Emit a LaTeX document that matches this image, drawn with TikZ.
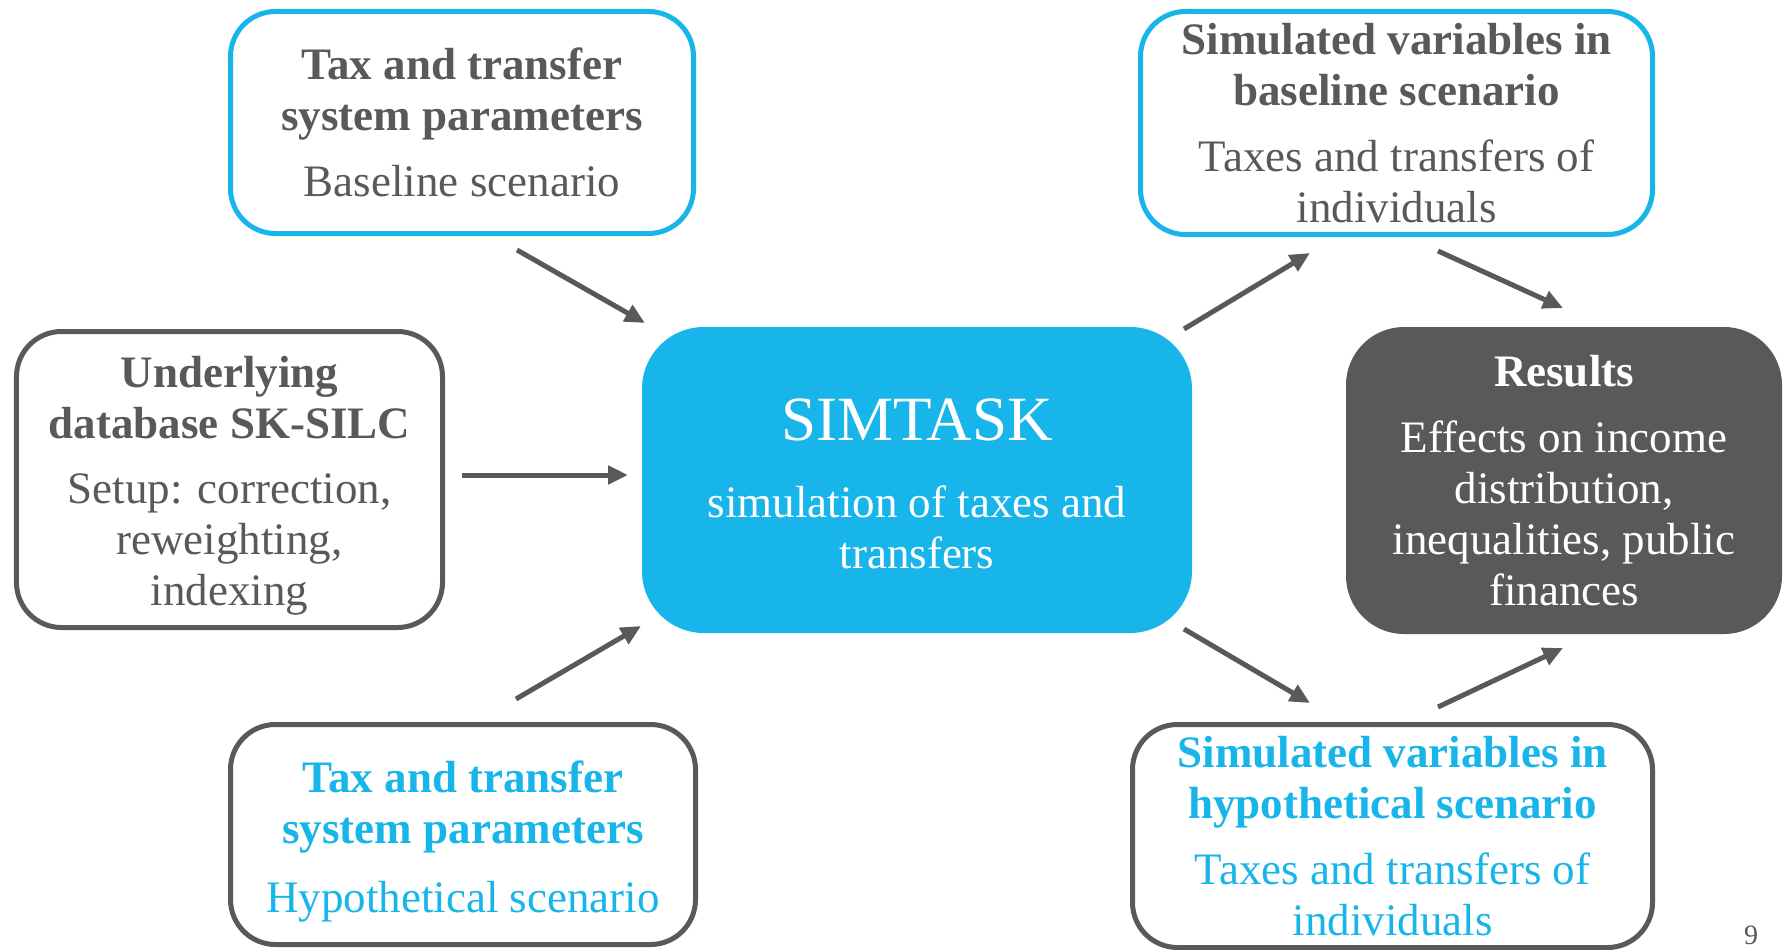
\documentclass[tikz,border=0pt]{standalone}
\usepackage{fontspec}
\setmainfont{Liberation Serif}
\usetikzlibrary{arrows.meta}
\definecolor{cyanb}{HTML}{17B5E9}
\definecolor{dgray}{HTML}{58595B}
\definecolor{rgray}{HTML}{595959}
\tikzset{
  obox/.style={draw=#1, line width=5bp, fill=white, rounded corners=45bp, inner sep=0pt, outer sep=0pt},
  fbox/.style={fill=#1, rounded corners=62bp, inner sep=0pt, outer sep=0pt},
  txt/.style={inner sep=0pt, align=center, font=\fontsize{45bp}{51bp}\selectfont},
  arr/.style={draw=rgray, line width=5bp, -{Triangle[length=20bp,width=18bp]}}
}
\begin{document}
\begin{tikzpicture}[x=1bp,y=-1bp]
\useasboundingbox (0,0) rectangle (1789,949);
% boxes
\node[obox=cyanb, minimum width=463bp, minimum height=222bp] (tl) at (462,122.5) {};
\node[txt, text=dgray] (tlt) at (462,122.5)
  {\textbf{Tax and transfer}\\\textbf{system parameters}\\[15bp]Baseline scenario};
\node[obox=rgray, minimum width=426bp, minimum height=296bp] (lb) at (229.5,479.5) {};
\node[txt, text=dgray] (lbt) at (229.5,485.5)
  {\textbf{Underlying}\\\textbf{database SK-SILC}\\[14bp]Setup: correction,\\reweighting,\\indexing};
\node[fbox=cyanb, minimum width=550bp, minimum height=306bp] (sim) at (917,480) {};
\node[txt, text=white] (simt) at (917,483.5)
  {{\fontsize{63bp}{63bp}\selectfont SIMTASK}\\[26bp]simulation of taxes and\\transfers};
\node[obox=rgray, minimum width=465bp, minimum height=220bp] (bl) at (463,834.5) {};
\node[txt, text=cyanb] (blt) at (463,842)
  {\textbf{Tax and transfer}\\\textbf{system parameters}\\[18bp]Hypothetical scenario};
\node[obox=cyanb, minimum width=512bp, minimum height=223bp] (tr) at (1396.5,123) {};
\node[txt, text=dgray] (trt) at (1396.5,123)
  {\textbf{Simulated variables in}\\\textbf{baseline scenario}\\[15bp]Taxes and transfers of\\individuals};
\node[fbox=rgray, rounded corners=58bp, minimum width=436bp, minimum height=307bp] (res) at (1564,480.5) {};
\node[txt, text=white] (rest) at (1564,480.5)
  {\textbf{Results}\\[15bp]Effects on income\\distribution,\\inequalities, public\\finances};
\node[obox=rgray, minimum width=520bp, minimum height=223bp] (br) at (1392.5,836) {};
\node[txt, text=cyanb] (brt) at (1392.5,836)
  {\textbf{Simulated variables in}\\\textbf{hypothetical scenario}\\[15bp]Taxes and transfers of\\individuals};
\node[text=dgray, font=\fontsize{28bp}{28bp}\selectfont, inner sep=0pt] (pg) at (1751,935) {9};
% arrow end points
\coordinate (a1s) at (517,250); \coordinate (a1e) at (645,323);
\coordinate (a2s) at (462,475); \coordinate (a2e) at (628,475);
\coordinate (a3s) at (516,699); \coordinate (a3e) at (641,626);
\coordinate (a4s) at (1184,329); \coordinate (a4e) at (1310,253);
\coordinate (a5s) at (1438,251); \coordinate (a5e) at (1563,308);
\coordinate (a6s) at (1184,629); \coordinate (a6e) at (1310,703);
\coordinate (a7s) at (1438,707); \coordinate (a7e) at (1563,648);
\draw[arr] (a1s) -- (a1e);
\draw[arr] (a2s) -- (a2e);
\draw[arr] (a3s) -- (a3e);
\draw[arr] (a4s) -- (a4e);
\draw[arr] (a5s) -- (a5e);
\draw[arr] (a6s) -- (a6e);
\draw[arr] (a7s) -- (a7e);
\end{tikzpicture}
\end{document}
